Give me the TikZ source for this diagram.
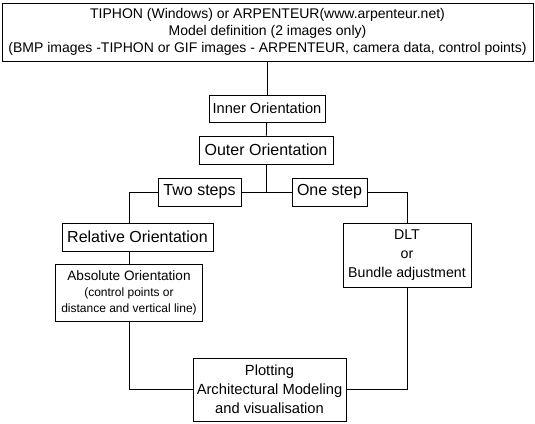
\documentclass[tikz,border=0pt]{standalone}
\usepackage{fontspec}
\setmainfont{Liberation Sans}
\usetikzlibrary{positioning}
\tikzstyle{box} = [draw=black, rectangle,
line width=0.8pt,
inner sep=0pt, align=center,
font=\fontsize{16}{19}\selectfont]
\tikzstyle{link} = [line width=0.8pt]

\begin{document}
\begin{tikzpicture}[x=1pt, y=-1pt]
      \useasboundingbox (0,0) rectangle (535,423);

      \node[box, minimum width=531, minimum height=58,
            font=\fontsize{14}{17}\selectfont] (top) at (267.5,32)
            {TIPHON (Windows) or ARPENTEUR(www.arpenteur.net)\\
             Model definition (2 images only)\\
             (BMP images -TIPHON or GIF images - ARPENTEUR, camera data, control points)};
      \node[box, minimum width=116, minimum height=27,
            font=\fontsize{14.6}{17}\selectfont] (inner) at (267,108.5) {Inner Orientation};
      \node[box, minimum width=134, minimum height=28] (outer) at (266,150) {Outer Orientation};
      \node[box, minimum width=83, minimum height=28]  (two)   at (199.5,192) {Two steps};
      \node[box, minimum width=75, minimum height=28]  (one)   at (329.5,192) {One step};
      \node[box, minimum width=151, minimum height=28] (rel)   at (137.5,237) {Relative Orientation};
      \node[box, minimum width=147, minimum height=57,
            font=\fontsize{12}{16}\selectfont] (abs) at (129,292.5)
            {{\fontsize{13.6}{16}\selectfont Absolute Orientation}\\
             (control points or\\distance and vertical line)};
      \node[box, minimum width=128, minimum height=64,
            font=\fontsize{14.2}{19}\selectfont] (dlt) at (407,255)
            {DLT\\or\\Bundle adjustment};
      \node[box, minimum width=153, minimum height=63,
            font=\fontsize{14.7}{19}\selectfont] (plot) at (269.5,389.5)
            {Plotting\\Architectural Modeling\\and visualisation};

      % main column
      \draw[link] (top.south -| inner.north) -- (inner.north);
      \draw[link] (inner) -- (outer);
      \draw[link] (outer.south) -- (outer.south |- two.east);
      \draw[link] (two.east) -- (one.west);
      % two steps branch
      \draw[link] (two.west) -| (rel.north -| abs.north);
      \draw[link] (rel.south -| abs.north) -- (abs.north);
      \draw[link] (abs.south) |- (plot.west);
      % one step branch
      \draw[link] (one.east) -| (dlt.north);
      \draw[link] (dlt.south) |- (plot.east);
\end{tikzpicture}
\end{document}
